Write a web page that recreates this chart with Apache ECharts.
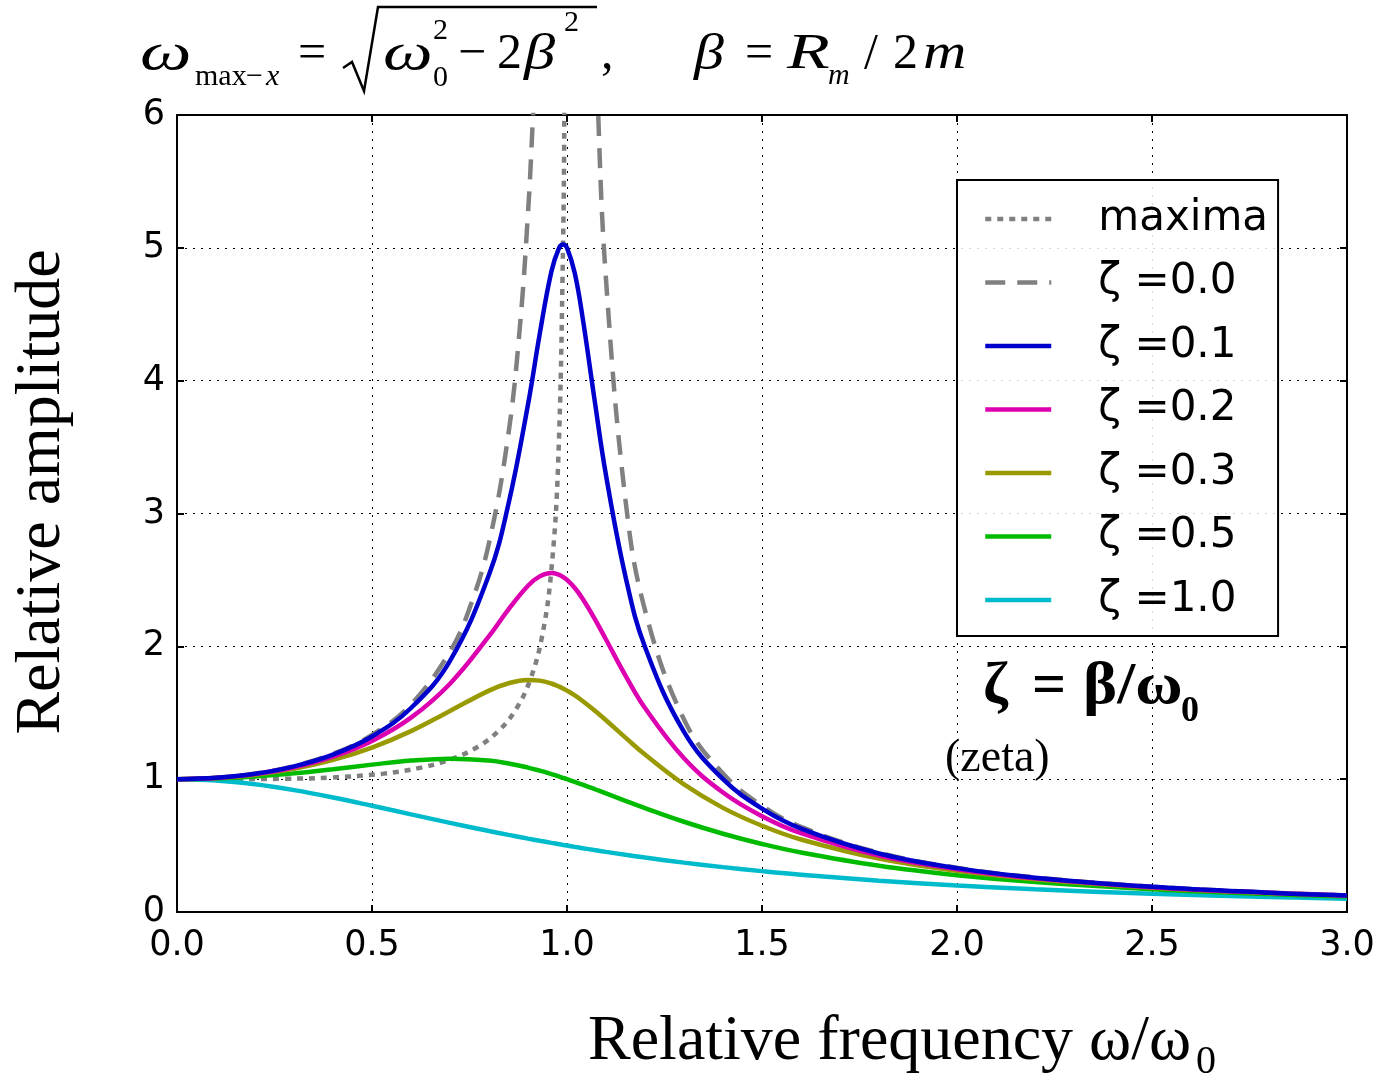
<!DOCTYPE html>
<html><head><meta charset="utf-8">
<script src="https://cdn.jsdelivr.net/npm/echarts@6/dist/echarts.min.js"></script>
<style>html,body{margin:0;padding:0;background:#fff}#c{width:1382px;height:1075px}</style>
</head><body><div id="c"></div>
<script>
// ---- data ----
const xTickLabels = ['0.0','0.5','1.0','1.5','2.0','2.5','3.0'];
const yTickLabels = ['0','1','2','3','4','5','6'];
const seriesNames = ['maxima','ζ =0.0','ζ =0.1','ζ =0.2','ζ =0.3','ζ =0.5','ζ =1.0'];

const maximaX = [0,0.1414,0.2742,0.3937,0.5292,0.6285,0.7071,0.7714,0.8246,0.8689,0.9055,0.9354,0.9592,0.9772,0.9899,0.9936,0.9964,0.9984];
const maximaY = [1.0,1.0002,1.0028,1.0122,1.0417,1.0885,1.1547,1.2442,1.3639,1.5250,1.7471,2.0656,2.5516,3.3714,5.0252,6.270,8.348,12.51];

const zeta0X = [0,0.1,0.2,0.3,0.4,0.5,0.6,0.7,0.75,0.8,0.85,0.88,0.9,0.91,0.92,0.94,0.96,1.0,1.04,1.06,1.08,1.1,1.15,1.2,1.3,1.4,1.5,1.6,1.8,2.0,2.2,2.5,2.8,3.0];
const zeta0Y = [1,1.0101,1.0417,1.0989,1.1905,1.3333,1.5625,1.9608,2.2857,2.7778,3.6036,4.4326,5.2632,5.8173,6.5104,8.591,12.755,null,12.255,8.091,6.010,4.762,3.1008,2.2727,1.4493,1.0417,0.8,0.6410,0.4464,0.3333,0.2604,0.1905,0.1462,0.125];

const freqX = [0,0.1,0.2,0.3,0.4,0.5,0.6,0.7,0.8,0.85,0.9,0.93,0.96,0.98,0.99,1.0,1.02,1.04,1.07,1.1,1.15,1.2,1.3,1.4,1.5,1.6,1.8,2.0,2.2,2.5,2.8,3.0];
const zeta01 = [1,1.0099,1.0408,1.0965,1.1851,1.3216,1.5357,1.8908,2.5384,3.0728,3.8207,4.3500,4.8218,5.0010,5.0252,5.0,4.8086,4.4755,3.8693,3.2880,2.5245,1.9952,1.3562,1.0,0.7779,0.6279,0.4408,0.3304,0.2587,0.1896,0.1457,0.1247];
const zeta02 = [1,1.0093,1.0381,1.0895,1.1695,1.2883,1.4630,1.7188,2.0761,2.2786,2.4566,2.5267,2.5515,2.5381,2.5221,2.5,2.4391,2.3589,2.2131,2.0511,1.7800,1.5357,1.1574,0.8998,0.7212,0.5931,0.4250,0.3221,0.2538,0.1871,0.1443,0.1236];
const zeta03 = [1,1.0082,1.0336,1.0780,1.1447,1.2380,1.3618,1.5136,1.6667,1.7223,1.7469,1.7418,1.7203,1.6968,1.6826,1.6667,1.6305,1.5890,1.5194,1.4438,1.3129,1.1851,0.9603,0.7839,0.6492,0.5459,0.4021,0.3095,0.2463,0.1831,0.1420,0.1220];
const zeta05 = [1,1.0050,1.0198,1.0436,1.0748,1.1094,1.1399,1.1546,1.1399,1.1184,1.0871,1.0641,1.0382,1.0196,1.0099,1.0,0.9796,0.9586,0.9261,0.8930,0.8373,0.7824,0.6795,0.5891,0.5121,0.4475,0.3480,0.2774,0.2260,0.1720,0.1353,0.1170];
const zeta10 = [1,0.9901,0.9615,0.9174,0.8621,0.8,0.7353,0.6711,0.6098,0.5806,0.5525,0.5362,0.5204,0.5101,0.5050,0.5,0.4901,0.4804,0.4662,0.4525,0.4306,0.4098,0.3717,0.3378,0.3077,0.2809,0.2358,0.2,0.1712,0.1379,0.1131,0.1];

// ---- build ----
const pairs = (xs, ys) => xs.map((x, i) => [x, ys[i] == null ? '-' : ys[i]]);
const SERIF = 'Liberation Serif';
const SANS = 'DejaVu Sans';

function mkLine(name, data, color, dash, z) {
  return {
    type: 'line', name, data, z,
    symbol: 'none', showSymbol: false,
    smooth: 0.4, clip: true,
    connectNulls: false,
    lineStyle: { color, width: 4.5, type: dash || 'solid', cap: 'butt' },
    itemStyle: { color },
    emphasis: { disabled: true }
  };
}

function T(x, B, text, fs, o) {
  o = o || {};
  return {
    type: 'text', x, y: B - 0.31 * fs, scaleX: o.sx || 1, z: 100,
    style: {
      text, fontSize: fs, fontFamily: SERIF,
      fontStyle: o.it ? 'italic' : 'normal', fontWeight: o.b ? 'bold' : 'normal',
      fill: '#000', align: 'left', verticalAlign: 'middle'
    }
  };
}

const graphics = [
  T(140, 71, 'ω', 52, {it:1, sx:1.4}),
  T(195, 86, 'max', 30),
  T(246, 86, '−', 30),
  T(266, 86, 'x', 30, {it:1}),
  T(298, 70, '=', 50),
  { type: 'polyline', z: 100, shape: { points: [[343,68],[352,62],[364,91],[378,7],[597,7]] },
    style: { stroke: '#000', lineWidth: 2.5, fill: null } },
  T(383, 71, 'ω', 52, {it:1, sx:1.35}),
  T(433, 40, '2', 30),
  T(433, 87, '0', 30),
  T(458, 70, '−', 50),
  T(497, 70, '2', 50),
  T(524, 71, 'β', 50, {it:1, sx:1.25}),
  T(564, 32, '2', 30),
  T(601, 70, ',', 50),
  T(694, 71, 'β', 50, {it:1, sx:1.2}),
  T(745, 70, '=', 50),
  T(787, 70, 'R', 50, {it:1, sx:1.4}),
  T(828, 85, 'm', 30, {it:1}),
  T(864, 70, '/', 50),
  T(893, 70, '2', 50),
  T(923, 70, 'm', 50, {it:1, sx:1.2}),
  // zeta definition
  T(983, 706, 'ζ', 60, {b:1}),
  T(1032, 706, '=', 60, {b:1}),
  T(1083, 706, 'β/ω', 60, {b:1, sx:1.08}),
  T(1181, 723, '0', 36, {b:1}),
  T(945, 773, '(zeta)', 46),
  // axis titles
  T(588, 1062, 'Relative frequency ω/ω', 64),
  T(1196, 1075, '0', 40),
  { type: 'text', z: 100, x: 42, y: 492, rotation: Math.PI / 2,
    style: { text: 'Relative amplitude', fontSize: 64, fontFamily: SERIF, fill: '#000',
      align: 'center', verticalAlign: 'middle' } }
];

const axisCommon = {
  type: 'value',
  axisLine: { show: true, onZero: false, lineStyle: { color: '#000', width: 2 } },
  axisTick: { show: true, inside: true, length: 7, lineStyle: { color: '#000', width: 2 } },
  splitLine: { show: false }
};

const option = {
  animation: false,
  backgroundColor: '#fff',
  grid: { left: 177, top: 115, width: 1170, height: 797, show: false },
  xAxis: [
    Object.assign({}, axisCommon, {
      min: 0, max: 3, interval: 0.5, position: 'bottom',
      axisLabel: { margin: 16, fontSize: 35, fontFamily: SANS, color: '#000',
        formatter: v => xTickLabels[Math.round(v / 0.5)] },
      splitLine: { show: true, lineStyle: { color: '#000', width: 1, type: [2, 6] } }
    }),
    Object.assign({}, axisCommon, {
      min: 0, max: 3, interval: 0.5, position: 'top', axisLabel: { show: false }
    })
  ],
  yAxis: [
    Object.assign({}, axisCommon, {
      min: 0, max: 6, interval: 1, position: 'left',
      axisLabel: { margin: 12, fontSize: 35, fontFamily: SANS, color: '#000',
        formatter: v => yTickLabels[Math.round(v)] },
      splitLine: { show: true, lineStyle: { color: '#000', width: 1, type: [2, 6] } }
    }),
    Object.assign({}, axisCommon, {
      min: 0, max: 6, interval: 1, position: 'right', axisLabel: { show: false }
    })
  ],
  legend: {
    orient: 'vertical', left: 957, top: 180,
    padding: [17, 10, 14, 26],
    itemWidth: 66, itemHeight: 44, itemGap: 19.5,
    borderColor: '#000', borderWidth: 2, backgroundColor: 'rgba(255,255,255,0.85)',
    selectedMode: false,
    itemStyle: { opacity: 0 },
    lineStyle: { width: 4.5 },
    textStyle: { fontFamily: SANS, fontSize: 42, color: '#000', padding: [0, 0, 0, 42], lineHeight: 44 },
    data: seriesNames
  },
  graphic: graphics,
  series: [
    mkLine(seriesNames[0], pairs(maximaX, maximaY), '#808080', [6, 6], 2),
    mkLine(seriesNames[1], pairs(zeta0X, zeta0Y), '#808080', [20, 12], 3),
    mkLine(seriesNames[2], pairs(freqX, zeta01), '#0000cc', null, 9),
    mkLine(seriesNames[3], pairs(freqX, zeta02), '#dd00b0', null, 8),
    mkLine(seriesNames[4], pairs(freqX, zeta03), '#999900', null, 7),
    mkLine(seriesNames[5], pairs(freqX, zeta05), '#00bb00', null, 6),
    mkLine(seriesNames[6], pairs(freqX, zeta10), '#00bbcc', null, 5)
  ]
};

const chart = echarts.init(document.getElementById('c'));
chart.setOption(option);
</script>
</body></html>
